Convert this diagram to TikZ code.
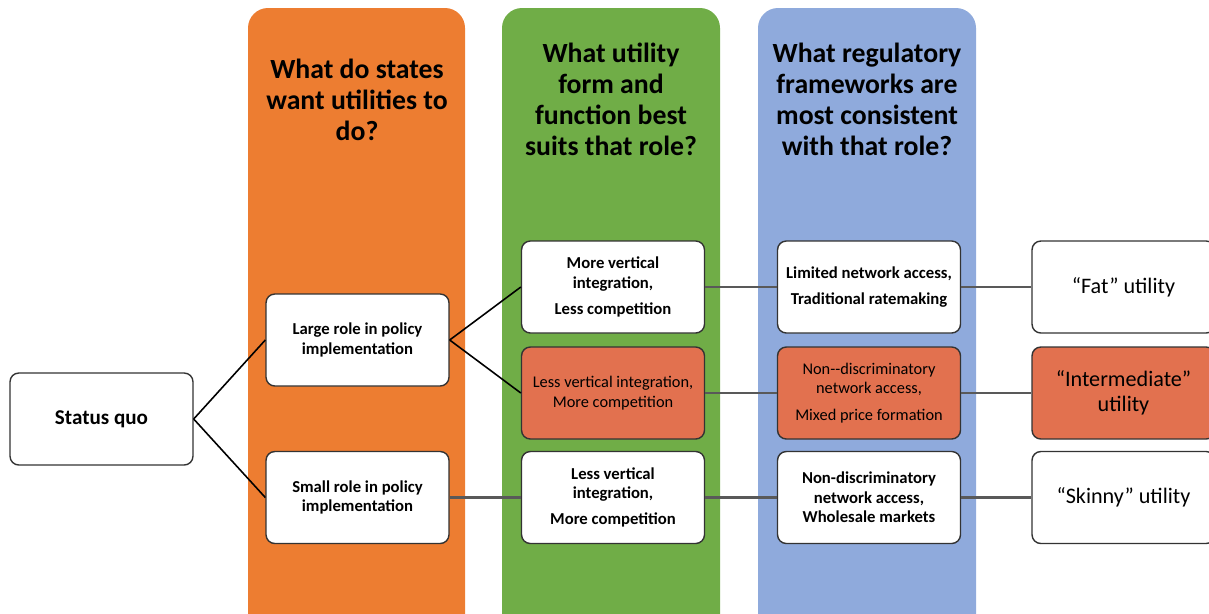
\documentclass[tikz,border=0pt]{standalone}
\usepackage{fontspec}
\setmainfont{Carlito}

\definecolor{colorange}{HTML}{ED7D31}
\definecolor{colgreen}{HTML}{70AD47}
\definecolor{colblue}{HTML}{8FAADC}
\definecolor{boxred}{HTML}{E2714F}

\tikzset{
  box/.style={draw=black!80, line width=0.8pt, fill=white, rounded corners=5pt,
    minimum width=3.66cm, minimum height=1.84cm, align=center, inner sep=1pt,
    font=\fontsize{9.5}{11}\selectfont\bfseries},
  hotbox/.style={box, fill=boxred, font=\fontsize{9.3}{11}\selectfont},
  endbox/.style={box, font=\fontsize{12.6}{14.2}\selectfont},
  panel/.style={rounded corners=0.4cm},
  head/.style={align=center, font=\fontsize{15.8}{17.6}\selectfont\bfseries},
  link/.style={draw=black!65, line width=1.2pt},
  branch/.style={draw=black, line width=0.9pt}
}

\begin{document}
\begin{tikzpicture}[x=0.02cm, y=-0.02cm]
  \useasboundingbox (0,0) rectangle (1209,613);

  % column backgrounds
  \fill[panel, colorange] (248,8) rectangle (465,650);
  \fill[panel, colgreen] (502,8) rectangle (720,650);
  \fill[panel, colblue] (758,8) rectangle (976,650);

  % column headings
  \node[head] (qstates) at (357,100) {What do states\\want utilities to\\do?};
  \node[head] (qform) at (611,99) {What utility\\form and\\function best\\suits that role?};
  \node[head] (qrules) at (867,99) {What regulatory\\frameworks are\\most consistent\\with that role?};

  % boxes
  \node[box, font=\fontsize{12}{14}\selectfont\bfseries] (statusquo) at (101.5,419) {Status quo};
  \node[box] (large) at (357.5,340) {Large role in policy\\implementation};
  \node[box] (small) at (357.5,497.5) {Small role in policy\\implementation};

  \node[box] (morevi) at (613,287) {More vertical\\integration,\\[4pt]Less competition};
  \node[hotbox] (lessvi) at (613,393) {Less vertical integration,\\More competition};
  \node[box] (lessvib) at (613,497.5) {Less vertical\\integration,\\[4pt]More competition};

  \node[box] (limited) at (869,287) {Limited network access,\\[4pt]Traditional ratemaking};
  \node[hotbox] (nondisc) at (869,393) {Non-{}-discriminatory\\network access,\\[4pt]Mixed price formation};
  \node[box] (nondiscb) at (869,497.5) {Non-discriminatory\\network access,\\Wholesale markets};

  \node[endbox] (fat) at (1123.5,287) {“Fat” utility};
  \node[endbox, fill=boxred] (inter) at (1123.5,393) {“Intermediate”\\utility};
  \node[endbox] (skinny) at (1123.5,497.5) {“Skinny” utility};

  % connectors
  \draw[branch] (statusquo.east) -- (large.west);
  \draw[branch] (statusquo.east) -- (small.west);
  \draw[branch] (large.east) -- (morevi.west);
  \draw[branch] (large.east) -- (lessvi.west);
  \draw[link] (small) -- (lessvib);

  \draw[link] (morevi) -- (limited);
  \draw[link] (lessvi) -- (nondisc);
  \draw[link] (lessvib) -- (nondiscb);
  \draw[link] (limited) -- (fat);
  \draw[link] (nondisc) -- (inter);
  \draw[link] (nondiscb) -- (skinny);

\end{tikzpicture}
\end{document}
